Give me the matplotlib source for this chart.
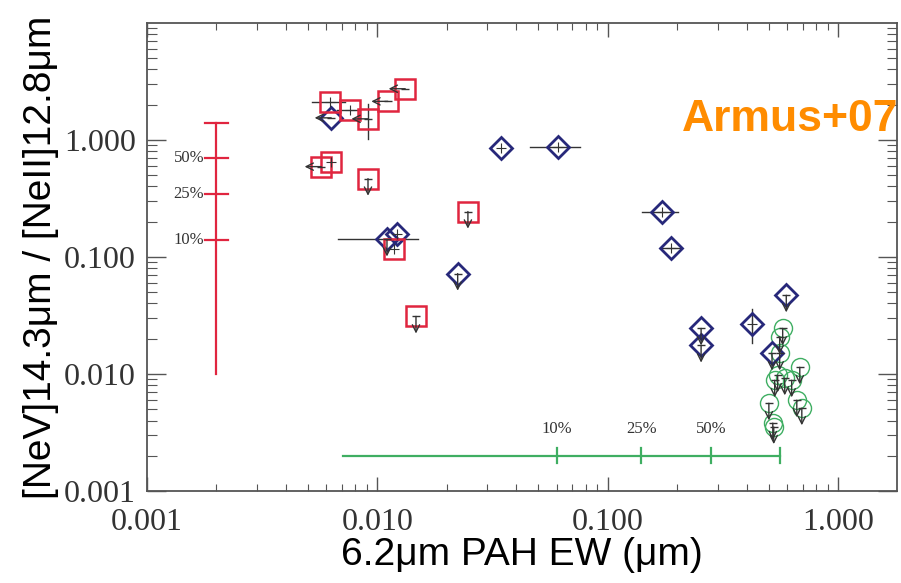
import matplotlib
matplotlib.use('Agg')
import matplotlib.pyplot as plt

RED = '#e0253f'
BLUE = '#27287a'
GREEN = '#3fae62'
INK = '#333333'
ORANGE = '#ff8c00'

# red squares
RED_X = [0.0062, 0.0076, 0.0091, 0.0111, 0.0132, 0.0057, 0.0063, 0.0091, 0.0118, 0.0247, 0.0147]
RED_Y = [2.11, 1.78, 1.51, 2.13, 2.73, 0.59, 0.65, 0.466, 0.116, 0.244, 0.031]
RED_LIM = ['', '', 'left', 'left', 'left', 'left', '', 'down', '', 'down', 'down']

# blue diamonds
BLUE_X = [0.0063, 0.0110, 0.0122, 0.0344, 0.0607, 0.0223, 0.171, 0.188, 0.595, 0.254, 0.254, 0.424, 0.516]
BLUE_Y = [1.54, 0.141, 0.156, 0.85, 0.873, 0.072, 0.240, 0.118, 0.047, 0.0245, 0.0175, 0.0265, 0.0150]
BLUE_LIM = ['left', 'down', '', '', '', 'down', '', '', 'down', 'down', 'down', '', 'down']

# green circles (all upper limits)
GREEN_X = [0.574, 0.557, 0.557, 0.681, 0.530, 0.546, 0.586, 0.628, 0.500, 0.661, 0.695, 0.520, 0.525]
GREEN_Y = [0.0245, 0.0206, 0.0150, 0.0114, 0.00883, 0.00975, 0.00919, 0.00883, 0.00562, 0.00597, 0.0051, 0.0038, 0.00352]

# horizontal error bars: x, y, lo, hi
XERR_X = [0.0062, 0.0076, 0.0110, 0.0607, 0.171, 0.188]
XERR_Y = [2.11, 1.78, 0.141, 0.873, 0.240, 0.118]
XERR_LO = [0.0052, 0.00667, 0.00675, 0.046, 0.1405, 0.168]
XERR_HI = [0.0072, 0.00823, 0.0150, 0.076, 0.201, 0.205]

# vertical error bars: x, y, lo, hi
YERR_X = [0.0091, 0.424]
YERR_Y = [1.51, 0.0265]
YERR_LO = [1.02, 0.0183]
YERR_HI = [2.03, 0.0356]

# typical-error scale bars
RBAR_X = 0.002
RBAR_LO, RBAR_HI = 0.01, 1.4
RBAR_TICKS = [0.70, 0.347, 0.14]
RBAR_LABELS = ['50%', '25%', '10%']

GBAR_Y = 0.002
GBAR_LO, GBAR_HI = 0.0071, 0.56
GBAR_TICKS = [0.06, 0.14, 0.28]
GBAR_LABELS = ['10%', '25%', '50%']

XTICKS = [0.001, 0.01, 0.1, 1.0]
XTICK_LABELS = ['0.001', '0.010', '0.100', '1.000']
YTICKS = [0.001, 0.01, 0.1, 1.0]
YTICK_LABELS = ['0.001', '0.010', '0.100', '1.000']


def arrow(ax, x, y, kind):
    if kind == 'down':
        end = (x, y / 1.4)
    else:
        end = (x / 1.18, y)
    ax.annotate('', xy=end, xytext=(x, y),
                arrowprops=dict(arrowstyle='->', color=INK, lw=1.0,
                                shrinkA=0, shrinkB=0, mutation_scale=13),
                zorder=4)


def draw_group(ax, xs, ys, lims, marker, color, ms, mew):
    ax.plot(xs, ys, linestyle='none', marker=marker, ms=ms, mew=mew,
            mfc='none', mec=color, zorder=3)
    for x, y, lim in zip(xs, ys, lims):
        if lim:
            arrow(ax, x, y, lim)
            ax.plot([x], [y], marker='_', ms=6, mew=1.0, color=INK, zorder=4)
        else:
            ax.plot([x], [y], marker='+', ms=7, mew=0.8, color=INK, zorder=4)


fig = plt.figure(figsize=(9.01, 5.83), dpi=100)
ax = fig.add_axes([0.1632, 0.1578, 0.8324, 0.8032])
ax.set_xscale('log')
ax.set_yscale('log')
ax.set_xlim(0.001, 1.8)
ax.set_ylim(0.001, 10)

# scale bars
ax.plot([RBAR_X, RBAR_X], [RBAR_LO, RBAR_HI], color=RED, lw=1.6, zorder=2)
for yv in [RBAR_HI] + RBAR_TICKS:
    ax.plot([RBAR_X / 1.12, RBAR_X * 1.12], [yv, yv], color=RED, lw=1.6, zorder=2)
for yv, lab in zip(RBAR_TICKS, RBAR_LABELS):
    ax.text(RBAR_X / 1.13, yv, lab, ha='right', va='center', fontsize=12,
            family='Liberation Serif', color=INK)

ax.plot([GBAR_LO, GBAR_HI], [GBAR_Y, GBAR_Y], color=GREEN, lw=1.6, zorder=2)
for xv in GBAR_TICKS + [GBAR_HI]:
    ax.plot([xv, xv], [GBAR_Y / 1.16, GBAR_Y * 1.16], color=GREEN, lw=1.6, zorder=2)
for xv, lab in zip(GBAR_TICKS, GBAR_LABELS):
    ax.text(xv, GBAR_Y * 1.45, lab, ha='center', va='bottom', fontsize=12,
            family='Liberation Serif', color=INK)

# error bars
for x, y, lo, hi in zip(XERR_X, XERR_Y, XERR_LO, XERR_HI):
    ax.plot([lo, hi], [y, y], color=INK, lw=1.0, zorder=2)
for x, y, lo, hi in zip(YERR_X, YERR_Y, YERR_LO, YERR_HI):
    ax.plot([x, x], [lo, hi], color=INK, lw=1.0, zorder=2)

draw_group(ax, GREEN_X, GREEN_Y, ['down'] * len(GREEN_X), 'o', GREEN, 13, 1.0)
draw_group(ax, BLUE_X, BLUE_Y, BLUE_LIM, 'D', BLUE, 11, 2.0)
draw_group(ax, RED_X, RED_Y, RED_LIM, 's', RED, 14, 1.8)

# axes styling
for sp in ax.spines.values():
    sp.set_color('#555555')
    sp.set_linewidth(1.3)
ax.tick_params(which='both', direction='in', top=True, right=True, colors='#555555')
ax.tick_params(which='major', length=10, width=1.0, pad=12)
ax.tick_params(which='minor', length=5, width=0.8)
ax.tick_params(axis='y', which='major', length=14, pad=8)
ax.tick_params(axis='y', which='minor', length=7)
ax.set_xticks(XTICKS)
ax.set_xticklabels(XTICK_LABELS)
ax.set_yticks(YTICKS)
ax.set_yticklabels(YTICK_LABELS)
for lab in ax.get_xticklabels() + ax.get_yticklabels():
    lab.set_family('Liberation Serif')
    lab.set_fontsize(23)
    lab.set_color(INK)

ax.set_xlabel('6.2μm PAH EW (μm)', fontsize=28, family='Liberation Sans',
              color='black', labelpad=0)
ax.set_ylabel('[NeV]14.3μm / [NeII]12.8μm', fontsize=28, family='Liberation Sans',
              color='black', labelpad=4)

fig.text(0.997, 0.795, 'Armus+07', ha='right', va='center', fontsize=32,
         fontweight='bold', family='Liberation Sans', color=ORANGE)

fig.savefig('out.png', dpi=100)
